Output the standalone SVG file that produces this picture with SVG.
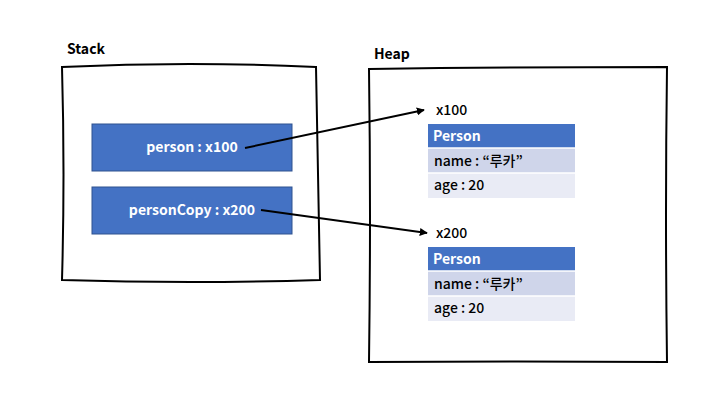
<svg xmlns="http://www.w3.org/2000/svg" width="720" height="405" viewBox="0 0 720 405">
<style>
text{font-family:"Noto Sans CJK KR","Noto Sans",sans-serif;font-size:14px;fill:#000;font-weight:500}
.lbl{font-weight:bold}
.w{fill:#fff;font-weight:bold}
.frame{fill:#fff;stroke:#000;stroke-width:2}
.var{fill:#4472C4;stroke:#2F528F;stroke-width:1}
.hd{fill:#4472C4}
.r1{fill:#CFD5EA}
.r2{fill:#E9EBF5}
.sep{stroke:#fff;stroke-width:1.5}
.conn{stroke:#000;stroke-width:2;fill:none;marker-end:url(#ah)}
</style>
<defs>
<marker id="ah" viewBox="0 0 10 10" refX="9" refY="5" markerWidth="4" markerHeight="4" orient="auto" markerUnits="strokeWidth">
<path d="M0,0 L10,5 L0,10 Z" fill="#000"/>
</marker>
</defs>
<rect width="720" height="405" fill="#fff"/>
<g id="stack">
<path class="frame" d="M62,67 Q190,61 316,67 Q318,175 320,280 Q190,284 62,280 Q65,175 62,67 Z"/>
<text class="lbl" x="67" y="54">Stack</text>
</g>
<g id="heap">
<path class="frame" d="M369,69 Q518,67 667,67 Q665,215 667,362 Q518,361 369,362 Q371,215 369,69 Z"/>
<text class="lbl" x="374" y="59">Heap</text>
</g>
<g id="person">
<rect class="var" x="92" y="124" width="200" height="47"/>
<text class="w" x="192" y="152" text-anchor="middle">person : x100</text>
</g>
<g id="personCopy">
<rect class="var" x="92" y="187" width="200" height="47"/>
<text class="w" x="192" y="215" text-anchor="middle">personCopy : x200</text>
</g>
<g id="obj1">
<text x="436" y="115">x100</text>
<rect class="hd" x="428" y="124" width="147" height="24"/>
<rect class="r1" x="428" y="148" width="147" height="25"/>
<rect class="r2" x="428" y="173" width="147" height="25"/>
<line class="sep" x1="428" y1="148" x2="575" y2="148"/>
<line class="sep" x1="428" y1="173" x2="575" y2="173"/>
<text class="w" x="433" y="141">Person</text>
<text x="434" y="166">name : “루카”</text>
<text x="434" y="190">age : 20</text>
</g>
<g id="obj2">
<text x="436" y="238">x200</text>
<rect class="hd" x="428" y="247" width="147" height="24"/>
<rect class="r1" x="428" y="271" width="147" height="25"/>
<rect class="r2" x="428" y="296" width="147" height="25"/>
<line class="sep" x1="428" y1="271" x2="575" y2="271"/>
<line class="sep" x1="428" y1="296" x2="575" y2="296"/>
<text class="w" x="433" y="264">Person</text>
<text x="434" y="289">name : “루카”</text>
<text x="434" y="313">age : 20</text>
</g>
<g id="connectors">
<line class="conn" x1="245" y1="148" x2="424" y2="110"/>
<line class="conn" x1="261" y1="210" x2="427" y2="233"/>
</g>
</svg>
